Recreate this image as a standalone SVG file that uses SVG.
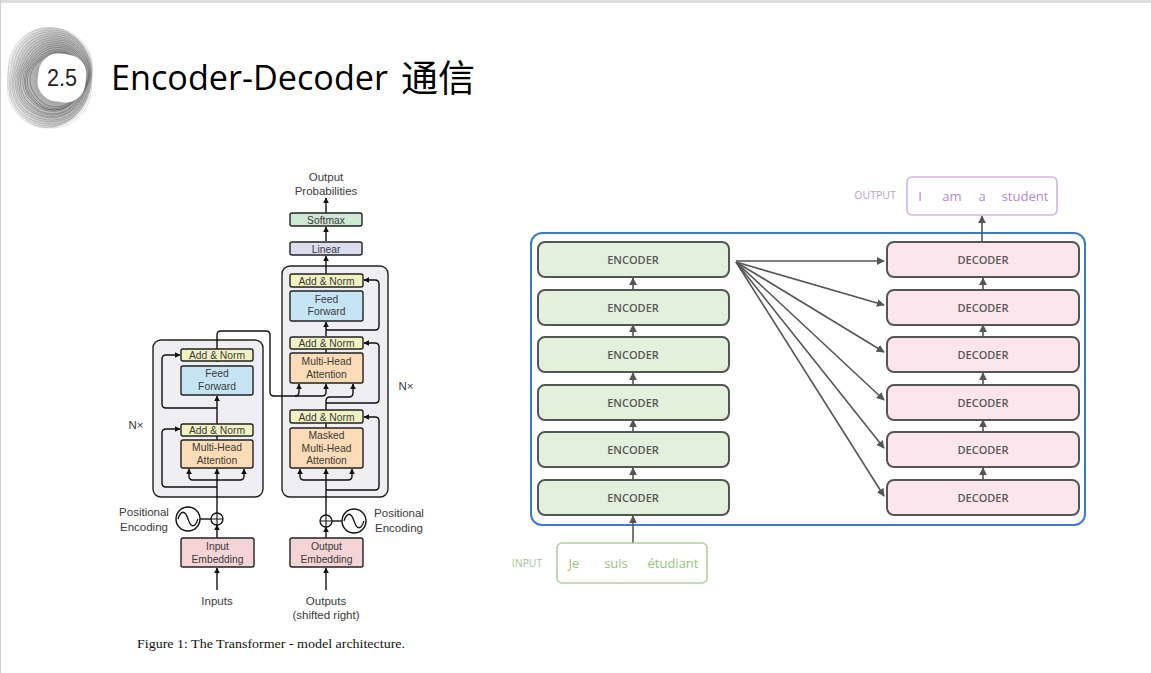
<svg xmlns="http://www.w3.org/2000/svg" width="1151" height="673" viewBox="0 0 1151 673">
<style>
.lt{font-family:"Liberation Sans",Arial,sans-serif;font-size:10.3px;fill:#3a3a3a;text-anchor:middle}
.lt2{font-family:"Liberation Sans",Arial,sans-serif;font-size:11.5px;fill:#3a3a3a;text-anchor:middle}
.bx{stroke:#222;stroke-width:1.4}
.an{fill:#f1f2c2}
.ff{fill:#c6e5f4}
.mh{fill:#fbdcb6}
.em{fill:#f5d4d7}
.blk{fill:#efeff3;stroke:#222;stroke-width:1.4}
.ln{fill:none;stroke:#111;stroke-width:1.4}
.la{fill:none;stroke:#111;stroke-width:1.4;marker-end:url(#ah)}
.enc rect{fill:#e3f0db;stroke:#555;stroke-width:2}
.dec rect{fill:#fce6ee;stroke:#555;stroke-width:2}
.rt{font-family:"Open Sans","Liberation Sans",sans-serif;font-size:11px;font-weight:600;fill:#585858;text-anchor:middle}
.ra{fill:none;stroke:#555;stroke-width:1.6;marker-end:url(#ah2)}
.rg{fill:none;stroke:#555;stroke-width:0.5}
</style>
<defs>
<marker id="ah" viewBox="0 0 10 10" refX="9" refY="5" markerWidth="6" markerHeight="6" markerUnits="userSpaceOnUse" orient="auto"><path d="M0,0 L10,5 L0,10 Z" fill="#111"/></marker>
<marker id="ah2" viewBox="0 0 10 10" refX="9" refY="5" markerWidth="8" markerHeight="8" markerUnits="userSpaceOnUse" orient="auto"><path d="M0,0 L10,5 L0,10 Z" fill="#555"/></marker>
<radialGradient id="lg" cx="0.62" cy="0.5" r="0.6"><stop offset="0.3" stop-color="#7a7a7a"/><stop offset="0.75" stop-color="#b5b5b5"/><stop offset="1" stop-color="#e5e5e5"/></radialGradient>
</defs>
<rect width="1151" height="673" fill="#fff"/>
<rect x="0" y="0" width="1151" height="3" fill="#dcdcdc"/>
<line x1="0.5" y1="0" x2="0.5" y2="673" stroke="#d0d0d0"/>

<g id="logo">
<path d="M49,27 C75,27 92,50 92,76 C92,104 72,128 47,128 C22,128 7,104 7,78 C7,50 24,27 49,27 Z" fill="url(#lg)" opacity="0.75"/>
<g class="rg">
<rect x="8" y="28" width="84" height="100" rx="40" transform="rotate(3 50 78)" opacity="0.35"/>
<rect x="10" y="30" width="81" height="96" rx="39" transform="rotate(7 50 78)" opacity="0.4"/>
<rect x="12" y="32" width="78" height="92" rx="37" transform="rotate(11 51 78)" opacity="0.45"/>
<rect x="14" y="34" width="75" height="88" rx="36" transform="rotate(15 52 78)" opacity="0.5"/>
<rect x="16" y="36" width="72" height="84" rx="34" transform="rotate(19 52 78)" opacity="0.55"/>
<rect x="18" y="38" width="69" height="80" rx="33" transform="rotate(23 53 78)" opacity="0.6"/>
<rect x="20" y="40" width="67" height="77" rx="32" transform="rotate(27 54 78)" opacity="0.65"/>
<rect x="22" y="42" width="64" height="73" rx="30" transform="rotate(31 54 78)" opacity="0.7"/>
<rect x="24" y="44" width="62" height="70" rx="29" transform="rotate(35 55 78)" opacity="0.75"/>
<rect x="26" y="46" width="59" height="66" rx="28" transform="rotate(39 56 78)" opacity="0.8"/>
<rect x="28" y="48" width="57" height="63" rx="27" transform="rotate(43 57 78)" opacity="0.85"/>
<rect x="30" y="50" width="55" height="60" rx="25" transform="rotate(47 57 78)" opacity="0.9"/>
<rect x="32" y="52" width="53" height="57" rx="24" transform="rotate(51 58 78)" opacity="0.95"/>
<rect x="34" y="53" width="51" height="54" rx="23" transform="rotate(55 59 78)"/>
</g>
<rect x="38" y="54" width="48" height="48" rx="20" fill="#fff" transform="rotate(8 62 78)"/>
<text x="62" y="86" font-family="Liberation Sans,Arial,sans-serif" font-size="24" fill="#222" text-anchor="middle" textLength="30" lengthAdjust="spacingAndGlyphs">2.5</text>
</g>

<g id="title">
<text x="111" y="90" font-family="Open Sans,Liberation Sans,sans-serif" font-size="35" fill="#000" textLength="277" lengthAdjust="spacingAndGlyphs">Encoder-Decoder</text>
<text x="401" y="92" font-family="Noto Sans CJK SC,sans-serif" font-size="37" fill="#000">通信</text>
</g>

<!-- Left: Transformer architecture -->
<g id="dec-block"><rect class="blk" x="282" y="266" width="106" height="231" rx="8"/></g>
<g id="enc-block"><rect class="blk" x="153" y="340" width="110" height="157" rx="8"/></g>

<g id="connectors-left">
<path class="la" d="M326,213 V198"/>
<path class="la" d="M326,241 V227"/>
<path class="la" d="M326,274 V256"/>
<path class="la" d="M326,336 V322"/>
<path class="la" d="M326,330 H375 Q379,330 379,326 V284 Q379,280 375,280 H364"/>
<path class="ln" d="M326,353 V349"/>
<path class="la" d="M326,403 H375 Q379,403 379,399 V347 Q379,343 375,343 H364"/>
<path class="la" d="M326,410 V401 Q326,397 330,397 H349 Q353,397 353,393 V384"/>
<path class="la" d="M217,362 V335 Q217,331 221,331 H266 Q270,331 270,335 V392 Q270,396 274,396 H322 Q326,396 326,392 V384"/>
<path class="la" d="M295,396 Q299,396 299,392 V384"/>
<path class="ln" d="M326,428 V423"/>
<path class="la" d="M326,490 H375 Q379,490 379,486 V421 Q379,417 375,417 H364"/>
<path class="la" d="M326,538 V527"/>
<path class="la" d="M326,515 V469"/>
<path class="la" d="M326,480 H304 Q300,480 300,476 V469"/>
<path class="la" d="M326,480 H348 Q352,480 352,476 V469"/>
<path class="ln" d="M332,521 H342"/>
<path class="la" d="M326,590 V568"/>
<path class="la" d="M217,424 V396"/>
<path class="ln" d="M217,440 V436"/>
<path class="la" d="M217,408 H166 Q162,408 162,404 V359 Q162,355 166,355 H180"/>
<path class="la" d="M217,487 H166 Q162,487 162,483 V433 Q162,429 166,429 H180"/>
<path class="la" d="M217,513 V469"/>
<path class="la" d="M217,480 H193 Q189,480 189,476 V469"/>
<path class="la" d="M217,480 H240 Q244,480 244,476 V469"/>
<path class="la" d="M217,538 V525"/>
<path class="ln" d="M200,519 H211"/>
<path class="la" d="M217,590 V568"/>
</g>

<g id="out-label"><text class="lt2" x="326" y="181">Output</text><text class="lt2" x="326" y="195">Probabilities</text></g>
<g id="softmax"><rect class="bx" x="290" y="213" width="72" height="13" rx="2" fill="#cfe8d2"/><text class="lt" x="326" y="223.5">Softmax</text></g>
<g id="linear"><rect class="bx" x="290" y="242" width="72" height="13" rx="2" fill="#dcdcf0"/><text class="lt" x="326" y="252.5">Linear</text></g>
<g id="dec-an3"><rect class="bx an" x="290" y="274" width="73" height="13" rx="2"/><text class="lt" x="326.5" y="284.5">Add &amp; Norm</text></g>
<g id="dec-ff"><rect class="bx ff" x="290" y="291" width="73" height="30" rx="2"/><text class="lt" x="326.5" y="302.5">Feed</text><text class="lt" x="326.5" y="315">Forward</text></g>
<g id="dec-an2"><rect class="bx an" x="290" y="337" width="73" height="12" rx="2"/><text class="lt" x="326.5" y="346.5">Add &amp; Norm</text></g>
<g id="dec-mha"><rect class="bx mh" x="290" y="353" width="73" height="30" rx="2"/><text class="lt" x="326.5" y="365">Multi-Head</text><text class="lt" x="326.5" y="377.5">Attention</text></g>
<g id="dec-an1"><rect class="bx an" x="290" y="410" width="73" height="13" rx="2"/><text class="lt" x="326.5" y="420.5">Add &amp; Norm</text></g>
<g id="dec-mmha"><rect class="bx mh" x="290" y="428" width="73" height="40" rx="2"/><text class="lt" x="326.5" y="439">Masked</text><text class="lt" x="326.5" y="451.5">Multi-Head</text><text class="lt" x="326.5" y="464">Attention</text></g>

<g id="enc-an2"><rect class="bx an" x="181" y="349" width="72" height="12" rx="2"/><text class="lt" x="217" y="358.5">Add &amp; Norm</text></g>
<g id="enc-ff"><rect class="bx ff" x="181" y="366" width="72" height="29" rx="2"/><text class="lt" x="217" y="377">Feed</text><text class="lt" x="217" y="389.5">Forward</text></g>
<g id="enc-an1"><rect class="bx an" x="181" y="424" width="72" height="12" rx="2"/><text class="lt" x="217" y="433.5">Add &amp; Norm</text></g>
<g id="enc-mha"><rect class="bx mh" x="181" y="440" width="72" height="28" rx="2"/><text class="lt" x="217" y="451">Multi-Head</text><text class="lt" x="217" y="463.5">Attention</text></g>

<g id="nx-left"><text class="lt2" x="136" y="429">N×</text></g>
<g id="nx-right"><text class="lt2" x="406" y="390">N×</text></g>

<g id="pe-left">
<circle cx="188" cy="519" r="12" fill="#fff" stroke="#111" stroke-width="1.4"/>
<path d="M178,519 C181,510 185,510 188,519 C191,528 195,528 198,519" fill="none" stroke="#111" stroke-width="1.3"/>
<text class="lt2" x="144" y="516">Positional</text><text class="lt2" x="144" y="531">Encoding</text>
</g>
<g id="plus-left"><circle cx="217" cy="519" r="6" fill="#fff" stroke="#111" stroke-width="1.3"/><path d="M211,519 H223 M217,513 V525" stroke="#111" stroke-width="1.1"/></g>
<g id="pe-right">
<circle cx="354" cy="521" r="12" fill="#fff" stroke="#111" stroke-width="1.4"/>
<path d="M344,521 C347,512 351,512 354,521 C357,530 361,530 364,521" fill="none" stroke="#111" stroke-width="1.3"/>
<text class="lt2" x="399" y="517">Positional</text><text class="lt2" x="399" y="532">Encoding</text>
</g>
<g id="plus-right"><circle cx="326" cy="521" r="6" fill="#fff" stroke="#111" stroke-width="1.3"/><path d="M320,521 H332 M326,515 V527" stroke="#111" stroke-width="1.1"/></g>

<g id="in-emb"><rect class="bx em" x="181" y="538" width="73" height="29" rx="2"/><text class="lt" x="217.5" y="550">Input</text><text class="lt" x="217.5" y="562.5">Embedding</text></g>
<g id="out-emb"><rect class="bx em" x="290" y="538" width="73" height="29" rx="2"/><text class="lt" x="326.5" y="550">Output</text><text class="lt" x="326.5" y="562.5">Embedding</text></g>
<g id="inputs"><text class="lt2" x="217" y="605">Inputs</text></g>
<g id="outputs"><text class="lt2" x="326" y="605">Outputs</text><text class="lt2" x="326" y="619">(shifted right)</text></g>
<g id="caption"><text x="137" y="648" font-family="Liberation Serif,Times New Roman,serif" font-size="13" fill="#111" textLength="268" lengthAdjust="spacingAndGlyphs">Figure 1: The Transformer - model architecture.</text></g>

<!-- Right: encoder-decoder stack -->
<g id="stack-frame"><rect x="531" y="233" width="554" height="292" rx="11" fill="none" stroke="#3b7bd4" stroke-width="2"/></g>

<g id="connectors-right">
<path class="ra" d="M633,290 V278"/>
<path class="ra" d="M633,337 V325"/>
<path class="ra" d="M633,385 V373"/>
<path class="ra" d="M633,432 V420"/>
<path class="ra" d="M633,480 V468"/>
<path class="ra" d="M633,545 V516"/>
<path class="ra" d="M983,290 V278"/>
<path class="ra" d="M983,337 V325"/>
<path class="ra" d="M983,385 V373"/>
<path class="ra" d="M983,432 V420"/>
<path class="ra" d="M983,480 V468"/>
<path class="ra" d="M982,242 V216"/>
<path class="ra" d="M736,261 L884,261"/>
<path class="ra" d="M736,262 L884,305"/>
<path class="ra" d="M736,262 L884,352"/>
<path class="ra" d="M736,262 L884,400"/>
<path class="ra" d="M736,262 L884,448"/>
<path class="ra" d="M736,262 L884,496"/>
</g>

<g id="enc1" class="enc"><rect x="538" y="242" width="191" height="35" rx="7"/><text class="rt" x="633" y="263.5">ENCODER</text></g>
<g id="enc2" class="enc"><rect x="538" y="290" width="191" height="35" rx="7"/><text class="rt" x="633" y="311.5">ENCODER</text></g>
<g id="enc3" class="enc"><rect x="538" y="337" width="191" height="35" rx="7"/><text class="rt" x="633" y="358.5">ENCODER</text></g>
<g id="enc4" class="enc"><rect x="538" y="385" width="191" height="35" rx="7"/><text class="rt" x="633" y="406.5">ENCODER</text></g>
<g id="enc5" class="enc"><rect x="538" y="432" width="191" height="35" rx="7"/><text class="rt" x="633" y="453.5">ENCODER</text></g>
<g id="enc6" class="enc"><rect x="538" y="480" width="191" height="35" rx="7"/><text class="rt" x="633" y="501.5">ENCODER</text></g>

<g id="dec1" class="dec"><rect x="887" y="242" width="192" height="35" rx="7"/><text class="rt" x="983" y="263.5">DECODER</text></g>
<g id="dec2" class="dec"><rect x="887" y="290" width="192" height="35" rx="7"/><text class="rt" x="983" y="311.5">DECODER</text></g>
<g id="dec3" class="dec"><rect x="887" y="337" width="192" height="35" rx="7"/><text class="rt" x="983" y="358.5">DECODER</text></g>
<g id="dec4" class="dec"><rect x="887" y="385" width="192" height="35" rx="7"/><text class="rt" x="983" y="406.5">DECODER</text></g>
<g id="dec5" class="dec"><rect x="887" y="432" width="192" height="35" rx="7"/><text class="rt" x="983" y="453.5">DECODER</text></g>
<g id="dec6" class="dec"><rect x="887" y="480" width="192" height="35" rx="7"/><text class="rt" x="983" y="501.5">DECODER</text></g>

<g id="output-box">
<text x="875" y="199" font-family="Open Sans,Liberation Sans,sans-serif" font-size="10.5" fill="#b9a0cc" text-anchor="middle">OUTPUT</text>
<rect x="907" y="177" width="150" height="38" rx="5" fill="#fff" stroke="#d3b5e2" stroke-width="1.6"/>
<g font-family="Open Sans,Liberation Sans,sans-serif" font-size="13" fill="#b489c9" text-anchor="middle">
<text x="920" y="201">I</text><text x="952" y="201">am</text><text x="982" y="201">a</text><text x="1025" y="201">student</text>
</g>
</g>

<g id="input-box">
<text x="527" y="567" font-family="Open Sans,Liberation Sans,sans-serif" font-size="10.5" fill="#a4bf99" text-anchor="middle">INPUT</text>
<rect x="557" y="543" width="150" height="40" rx="5" fill="#fff" stroke="#acd297" stroke-width="1.6"/>
<g font-family="Open Sans,Liberation Sans,sans-serif" font-size="13" fill="#93c47a" text-anchor="middle">
<text x="574" y="568">Je</text><text x="616" y="568">suis</text><text x="673" y="568">étudiant</text>
</g>
</g>
</svg>
